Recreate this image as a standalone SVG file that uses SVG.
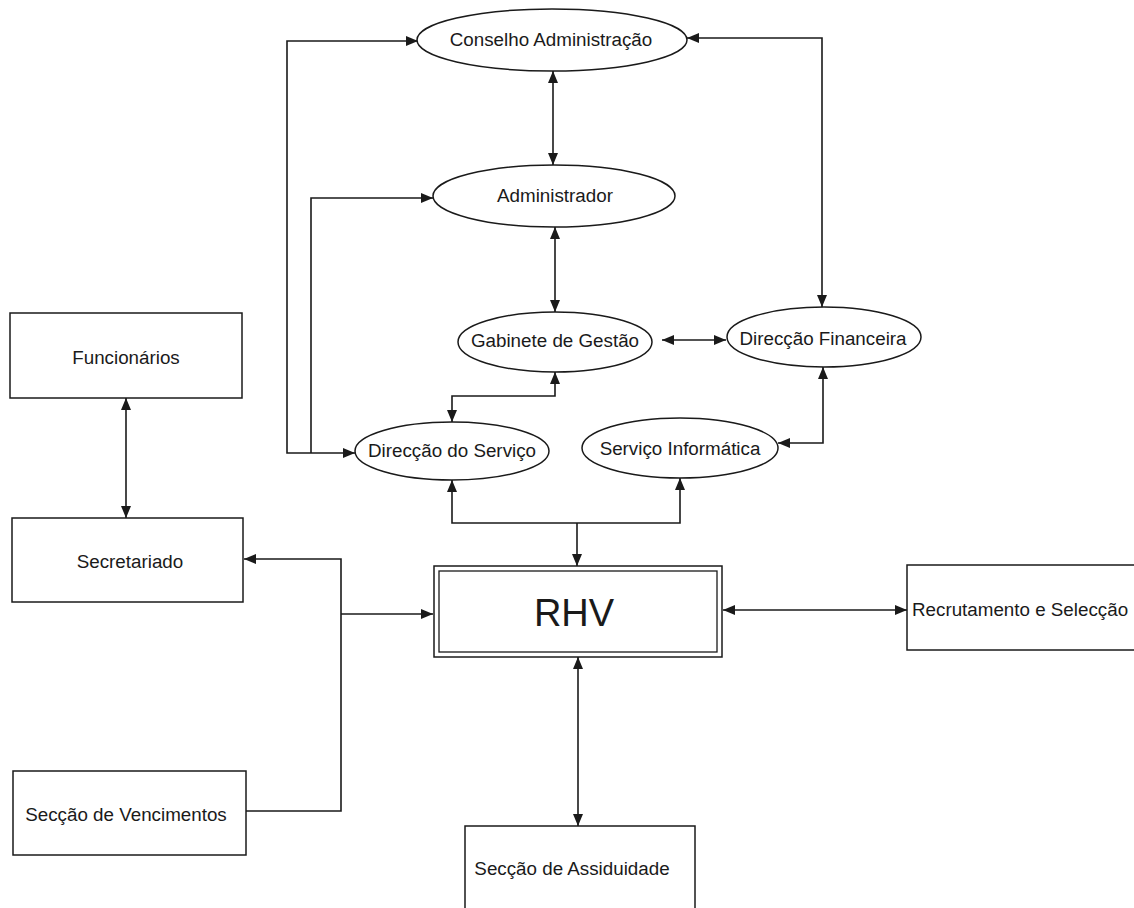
<svg xmlns="http://www.w3.org/2000/svg" width="1134" height="908" viewBox="0 0 1134 908">
  <style>
    .shape { fill: #ffffff; stroke: #1a1a1a; stroke-width: 1.5; }
    .lbl { font-family: "Liberation Sans", Arial, sans-serif; font-size: 18.8px; fill: #1a1a1a; text-anchor: middle; }
    .big { font-size: 38px; }
    .wire { fill: none; stroke: #1a1a1a; stroke-width: 1.6; }
    .both { marker-start: url(#tip); marker-end: url(#tip); }
    .head { marker-end: url(#tip); }
    .tail { marker-start: url(#tip); }
  </style>
  <defs>
    <marker id="tip" viewBox="0 0 12 10" refX="12" refY="5" markerWidth="12" markerHeight="10" markerUnits="userSpaceOnUse" orient="auto-start-reverse">
      <path d="M0,0 L12,5 L0,10 z" fill="#1a1a1a"/>
    </marker>
  </defs>
  <rect width="1134" height="908" fill="#ffffff"/>

  <!-- connectors -->
  <g id="connectors">
    <path class="wire both" d="M418,41 H287 V453 H355"/>
    <path class="wire tail" d="M433,198 H311 V453"/>
    <path class="wire both" d="M553,71 V165"/>
    <path class="wire both" d="M555,227 V312"/>
    <path class="wire both" d="M687,38 H822 V307"/>
    <path class="wire both" d="M662,340 H726"/>
    <path class="wire both" d="M555,372 V396 H452 V422"/>
    <path class="wire both" d="M823,367 V443 H778"/>
    <path class="wire both" d="M452,480 V523 H680 V478"/>
    <path class="wire head" d="M577,523 V566"/>
    <path class="wire tail" d="M244,559 H341 V811 H246"/>
    <path class="wire head" d="M341,614 H433"/>
    <path class="wire both" d="M723,610 H907"/>
    <path class="wire both" d="M578,657 V826"/>
    <path class="wire both" d="M126,398 V518"/>
  </g>

  <g id="conselho">
    <ellipse class="shape" cx="552" cy="40" rx="135" ry="31"/>
    <text class="lbl" x="551" y="46">Conselho Administração</text>
  </g>
  <g id="administrador">
    <ellipse class="shape" cx="554" cy="196" rx="121" ry="31"/>
    <text class="lbl" x="555" y="202">Administrador</text>
  </g>
  <g id="gabinete">
    <ellipse class="shape" cx="555" cy="342" rx="97" ry="30"/>
    <text class="lbl" x="555" y="347">Gabinete de Gestão</text>
  </g>
  <g id="direccao-financeira">
    <ellipse class="shape" cx="824" cy="337" rx="97" ry="30"/>
    <text class="lbl" x="823" y="345">Direcção Financeira</text>
  </g>
  <g id="direccao-servico">
    <ellipse class="shape" cx="452" cy="451" rx="97" ry="29"/>
    <text class="lbl" x="452" y="457">Direcção do Serviço</text>
  </g>
  <g id="servico-informatica">
    <ellipse class="shape" cx="680" cy="448" rx="98" ry="30"/>
    <text class="lbl" x="680" y="455">Serviço Informática</text>
  </g>

  <g id="rhv">
    <rect class="shape" x="434" y="566" width="288" height="91" stroke-width="2"/>
    <rect x="439" y="571" width="278" height="81" fill="none" stroke="#1a1a1a" stroke-width="1.3"/>
    <text class="lbl big" x="574" y="626">RHV</text>
  </g>

  <g id="funcionarios">
    <rect class="shape" x="10" y="313" width="232" height="85"/>
    <text class="lbl" x="126" y="364">Funcionários</text>
  </g>
  <g id="secretariado">
    <rect class="shape" x="12" y="518" width="231" height="84"/>
    <text class="lbl" x="130" y="568">Secretariado</text>
  </g>
  <g id="vencimentos">
    <rect class="shape" x="13" y="771" width="233" height="84"/>
    <text class="lbl" x="126" y="821">Secção de Vencimentos</text>
  </g>
  <g id="assiduidade">
    <rect class="shape" x="465" y="826" width="230" height="90"/>
    <text class="lbl" x="572" y="875">Secção de Assiduidade</text>
  </g>
  <g id="recrutamento">
    <rect class="shape" x="907" y="565" width="240" height="85"/>
    <text class="lbl" x="912" y="616" style="text-anchor:start">Recrutamento e Selecção</text>
  </g>
</svg>
